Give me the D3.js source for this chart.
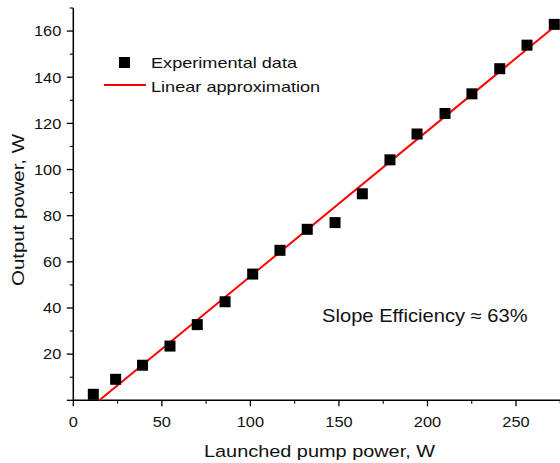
<!DOCTYPE html>
<html><head><meta charset="utf-8">
<script src="https://cdn.jsdelivr.net/npm/d3@7"></script>
<style>
html,body{margin:0;padding:0;background:#fff;}
svg{display:block;}
text{font-family:"Liberation Sans",Arial,sans-serif;fill:#111;}
</style></head>
<body>
<svg id="chart" width="560" height="463"></svg>
<script>
const pumpPower = [11.3, 23.9, 39.1, 54.6, 70.0, 85.7, 101.3, 116.7, 132.1, 147.8, 163.2, 178.8, 194.1, 209.9, 225.1, 240.8, 256.2, 271.6];
const outputPower = [2.6, 9.1, 15.2, 23.5, 32.8, 42.7, 54.7, 65.0, 74.1, 77.0, 89.5, 104.2, 115.4, 124.3, 132.8, 143.7, 153.9, 162.9];
const fitX = [14.7, 272];
const fitY = [0, 162.1];
const xTicks = [0, 50, 100, 150, 200, 250];
const xMinor = [25, 75, 125, 175, 225, 275];
const yTicks = [0, 20, 40, 60, 80, 100, 120, 140, 160];
const yMinor = [10, 30, 50, 70, 90, 110, 130, 150, 170];
const legendLabels = ["Experimental data", "Linear approximation"];
const annotation = "Slope Efficiency \u2248 63%";
const xTitle = "Launched pump power, W";
const yTitle = "Output power, W";

const svg = d3.select("#chart");
const x = d3.scaleLinear().domain([0, 275]).range([73.3, 560.3]);
const y = d3.scaleLinear().domain([0, 170]).range([400.3, 8]);

function stext(g, str, px, py, fs, sx, anchor, rot) {
  const t = g.append("text")
    .attr("transform", `translate(${px},${py})` + (rot ? ` rotate(${rot})` : "") + ` scale(${sx},1)`)
    .attr("font-size", fs)
    .attr("text-anchor", anchor || "start")
    .text(str);
  return t;
}

// Axes
const gx = svg.append("g").attr("transform", `translate(0,${y(0)})`);
gx.append("line").attr("x1", x(0)).attr("x2", 560).attr("stroke", "#000").attr("stroke-width", 1.5);
gx.selectAll(".maj").data(xTicks).join("line")
  .attr("x1", d => x(d)).attr("x2", d => x(d)).attr("y1", 0).attr("y2", 6)
  .attr("stroke", "#000").attr("stroke-width", 1.3);
gx.selectAll(".min").data(xMinor).join("line")
  .attr("x1", d => x(d)).attr("x2", d => x(d)).attr("y1", 0).attr("y2", 3.5)
  .attr("stroke", "#000").attr("stroke-width", 1.1);
xTicks.forEach(d => stext(gx, d, x(d), 26.4, 14, 1.17, "middle"));

const gy = svg.append("g").attr("transform", `translate(${x(0)},0)`);
gy.append("line").attr("y1", y(0)).attr("y2", y(170)).attr("stroke", "#000").attr("stroke-width", 1.5);
gy.selectAll(".maj").data(yTicks).join("line")
  .attr("y1", d => y(d)).attr("y2", d => y(d)).attr("x1", 0).attr("x2", -6.5)
  .attr("stroke", "#000").attr("stroke-width", 1.3);
gy.selectAll(".min").data(yMinor).join("line")
  .attr("y1", d => y(d)).attr("y2", d => y(d)).attr("x1", 0).attr("x2", -3.5)
  .attr("stroke", "#000").attr("stroke-width", 1.1);
yTicks.filter(d => d > 0).forEach(d => stext(gy, d, -12, y(d) + 5.3, 14, 1.17, "end"));

// Titles
stext(svg, xTitle, 319.5, 457, 17, 1.17, "middle");
stext(svg, yTitle, 24, 210, 17, 1.2, "middle", -90);

// Fit line
const line = d3.line().x(d => x(d[0])).y(d => y(d[1]));
svg.append("path").datum(fitX.map((v, i) => [v, fitY[i]]))
  .attr("d", line).attr("fill", "none").attr("stroke", "#ff0000").attr("stroke-width", 2);

// Data squares
const sz = 11;
svg.selectAll("rect.pt").data(pumpPower.map((v, i) => [v, outputPower[i]])).join("rect")
  .attr("class", "pt")
  .attr("x", d => x(d[0]) - sz / 2).attr("y", d => y(d[1]) - sz / 2)
  .attr("width", sz).attr("height", sz).attr("fill", "#000");

// Legend
const lg = svg.append("g");
lg.append("rect").attr("x", 119).attr("y", 57).attr("width", 11).attr("height", 11).attr("fill", "#000");
lg.append("line").attr("x1", 104).attr("x2", 146).attr("y1", 85).attr("y2", 85).attr("stroke", "#ff0000").attr("stroke-width", 2);
stext(lg, legendLabels[0], 151, 68, 14.5, 1.25, "start");
stext(lg, legendLabels[1], 151, 91.5, 14.5, 1.25, "start");

// Annotation
stext(svg, annotation, 322, 322, 18, 1.12, "start");
</script>
</body></html>
